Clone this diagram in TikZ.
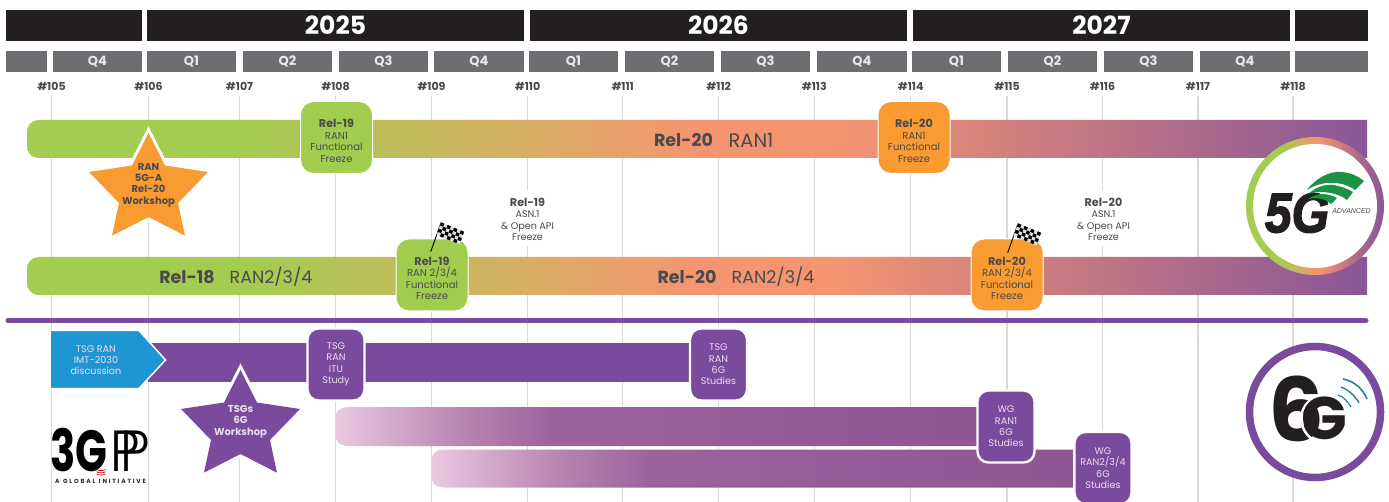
\documentclass[tikz,border=0pt]{standalone}
\usepackage{fontspec}
\setmainfont{Poppins}
\newfontfamily\fivegfont[BoldItalicFeatures={FakeBold=2.5}]{Liberation Sans}
\newfontfamily\thinfont{Poppins Light}
\usetikzlibrary{calc}
\definecolor{yearbar}{HTML}{231F20}
\definecolor{qbar}{HTML}{6D6E71}
\definecolor{qtext}{HTML}{E8E8E8}
\definecolor{gridc}{HTML}{D9D9DB}
\definecolor{txt}{HTML}{4A4A4C}
\definecolor{grn}{HTML}{A0CD4E}
\definecolor{org}{HTML}{F99B30}
\definecolor{pur}{HTML}{7A4A9C}
\definecolor{blu}{HTML}{1E96D2}
\definecolor{lav}{HTML}{E9DEF0}
\definecolor{gA}{HTML}{A2CD50}
\definecolor{gB}{HTML}{D9AE65}
\definecolor{gC}{HTML}{F59570}
\definecolor{gD}{HTML}{8A5698}
\definecolor{fA}{HTML}{EAC9E2}
\definecolor{fB}{HTML}{B884B0}
\definecolor{fC}{HTML}{9C639D}
\definecolor{fD}{HTML}{8F5595}
\definecolor{swoosh}{HTML}{1B9347}
\definecolor{teal6}{HTML}{2A7F9E}
\pgfdeclarehorizontalshading{barshade}{100bp}{color(0bp)=(gA); color(33bp)=(gA); color(43.8bp)=(gB); color(50bp)=(gC); color(55bp)=(gC); color(75bp)=(gD); color(100bp)=(gD)}
\pgfdeclarehorizontalshading{fadeshade}{100bp}{color(0bp)=(fA); color(25bp)=(fA); color(35bp)=(fB); color(42bp)=(fC); color(75bp)=(fD); color(100bp)=(fD)}
\pgfdeclarehorizontalshading{ringshade}{100bp}{color(0bp)=(gA); color(37bp)=(gA); color(51bp)=(gC); color(66bp)=(gD!70!gC); color(75bp)=(gD); color(100bp)=(gD)}
\newcommand{\hd}[1]{{\fontsize{11.2}{11.6}\selectfont\textbf{#1}}}
\newcommand{\lft}{\rule{0pt}{15pt}}
% left-rounded bar: x-left, x-right, y-top, y-bottom
\newcommand{\lbar}[4]{(#1+12,#3) .. controls (#1+5,#3) and (#1,#3+5) .. (#1,#3+12) -- (#1,#4-12) .. controls (#1,#4-5) and (#1+5,#4) .. (#1+12,#4) -- (#2,#4) -- (#2,#3) -- cycle}
\newcommand{\starpath}{(0,0) -- (16.5,32.5) -- (59.5,39) -- (29.5,70) -- (36.5,102.7) -- (0,84) -- (-36.5,102.7) -- (-29.5,70) -- (-59.5,39) -- (-16.5,32.5) -- cycle}
\tikzset{
  x=1pt,y=-1pt,
  yearbox/.style={fill=yearbar,inner sep=0pt,minimum height=31,text=white,font=\fontsize{25}{27}\selectfont\bfseries},
  qbox/.style={fill=qbar,inner sep=0pt,minimum height=21,text=qtext,font=\fontsize{13}{15}\selectfont\bfseries},
  meet/.style={inner sep=0pt,minimum height=20,minimum width=30,text=txt,font=\fontsize{11}{13}\selectfont\bfseries},
  gridline/.style={draw=gridc,line width=1.4},
  mile/.style={rectangle,rounded corners=13,draw=white,line width=1,minimum width=72,minimum height=72,inner sep=0pt,align=center,text=txt,font=\fontsize{10}{11.6}\selectfont},
  sixbox/.style={rectangle,rounded corners=11,fill=pur,draw=white,line width=2.4,minimum width=57,minimum height=72,inner sep=0pt,align=center,text=lav,font=\fontsize{9.6}{11.4}\selectfont},
  note/.style={fill=white,inner sep=0pt,minimum width=70,minimum height=56,align=center,text=txt,font=\fontsize{9.6}{11.4}\selectfont},
  startext/.style={inner sep=0pt,align=center,font=\fontsize{10}{11.4}\selectfont\bfseries},
  bartext/.style={inner sep=0pt,text=txt,font=\fontsize{17.5}{20}\selectfont},
  flagpic/.pic={
    \draw[black,line width=0.9] (0,0) -- (10.3,-29);
    \begin{scope}[shift={(10.3,-29.4)},x={(3.29pt,-1.34pt)},y={(-1.07pt,-3.18pt)}]
      \fill[gray!25] (0,0) -- (7,0) -- (7,4) -- (0,4) -- cycle;
      \foreach \i in {0,...,6}\foreach \j in {0,...,3}{
        \pgfmathtruncatemacro{\m}{mod(\i+\j,2)}
        \ifnum\m=0 \fill[black] (\i,\j) -- (\i+1,\j) -- (\i+1,\j+1) -- (\i,\j+1) -- cycle;\fi}
    \end{scope}
  }
}
\begin{document}
\begin{tikzpicture}
\useasboundingbox (0,0) rectangle (1389,502);
\fill[white] (0,0) rectangle (1389,502);
% year bars
\foreach \n/\a/\b/\t in {y0/6/142/,y1/147/524/2025,y2/530/907/2026,y3/913/1290/2027,y4/1295/1368/}{
  \pgfmathsetmacro{\w}{\b-\a}\pgfmathsetmacro{\c}{(\a+\b)/2}
  \node[yearbox,minimum width=\w] (\n) at (\c,25.5) {\t};}
% quarter bars
\foreach \n/\a/\b/\t in {q0/6/47/,q1/53/142/Q4,q2/147/236/Q1,q3/243/332/Q2,q4/339/428/Q3,q5/434/524/Q4,q6/529/618/Q1,q7/625/714/Q2,q8/721/810/Q3,q9/817/907/Q4,q10/912/1001/Q1,q11/1008/1097/Q2,q12/1104/1193/Q3,q13/1200/1290/Q4,q14/1295/1368/}{
  \pgfmathsetmacro{\w}{\b-\a}\pgfmathsetmacro{\c}{(\a+\b)/2}
  \node[qbox,minimum width=\w] (\n) at (\c,61.5) {\t};}
% meetings and grid lines
\foreach \n/\x in {105/51.5,106/148.5,107/239.5,108/335.5,109/431.5,110/527.5,111/622.7,112/718.7,113/814.3,114/910.7,115/1007,116/1102.5,117/1198,118/1293}{
  \node[meet] (m\n) at (\x,86) {\#\n};
  \coordinate (e\n) at (\x,502);
  \draw[gridline] (m\n.south) -- (e\n);}
% notes over the grid
\node[note] (asn19) at (527.5,218) {\rule{0pt}{11pt}\hd{Rel-19}\\ASN.1\\\& Open API\\Freeze};
\node[note] (asn20) at (1103.5,218) {\rule{0pt}{11pt}\hd{Rel-20}\\ASN.1\\\& Open API\\Freeze};
% release bars
\shade[shading=barshade] \lbar{27}{1367}{120}{158};
\shade[shading=barshade] \lbar{27}{1367}{257}{295};
\node[bartext] (t1a) at (683.5,140) {\hd{\fontsize{17.5}{20}\selectfont Rel-20}};
\node[bartext,font=\fontsize{19.5}{21}\selectfont] (t1b) at (751,140) {RAN1};
\node[bartext] (t2a) at (187,277) {\hd{\fontsize{17.5}{20}\selectfont Rel-18}};
\node[bartext] (t2b) at (271,277) {RAN2/3/4};
\node[bartext] (t3a) at (687,277) {\hd{\fontsize{17.5}{20}\selectfont Rel-20}};
\node[bartext] (t3b) at (773,277) {RAN2/3/4};
% freeze boxes
\node[mile,fill=grn] (f1) at (336.5,137.5) {\lft\hd{Rel-19}\\RAN1\\Functional\\Freeze};
\node[mile,fill=org] (f2) at (914,137.5) {\lft\hd{Rel-20}\\RAN1\\Functional\\Freeze};
\node[mile,fill=grn] (f3) at (432,275) {\lft\hd{Rel-19}\\RAN 2/3/4\\Functional\\Freeze};
\node[mile,fill=org] (f4) at (1007,275) {\lft\hd{Rel-20}\\RAN 2/3/4\\Functional\\Freeze};
\pic at (430.7,251.7) {flagpic};
\pic at (1007.7,252.7) {flagpic};
% star 5G-A
\begin{scope}[shift={(148.5,133)}]
  \draw[white,line width=6,line join=miter] \starpath;
  \fill[org] \starpath;
\end{scope}
\node[startext,text=txt] (s1) at (148.5,185) {RAN\\5G-A\\Rel-20\\Workshop};
% divider
\draw[pur,line width=5,line cap=round] (8,320.5) -- (1366,320.5);
% 6G lower section
\fill[pur] (148,343.5) rectangle (692,381.5);
\shade[shading=fadeshade] \lbar{335}{977}{407}{446};
\shade[shading=fadeshade] \lbar{431}{1073}{449.5}{487.5};
\filldraw[fill=blu,draw=white,line width=1.5] (50,330.5) -- (139,330.5) -- (165.5,360) -- (139,388.5) -- (50,388.5) -- cycle;
\node[inner sep=0pt,align=center,text=lav,font=\fontsize{9.6}{11.2}\selectfont] (imt) at (96,360) {TSG RAN\\IMT-2030\\discussion};
\begin{scope}[shift={(240.5,370)}]
  \draw[white,line width=6,line join=miter] \starpath;
  \fill[pur] \starpath;
\end{scope}
\node[startext,text=lav] (s2) at (240.5,421.5) {TSGs\\6G\\Workshop};
\node[sixbox] (b1) at (336,364.5) {TSG\\RAN\\ITU\\Study};
\node[sixbox] (b2) at (718.5,364.5) {TSG\\RAN\\6G\\Studies};
\node[sixbox] (b3) at (1006,426.5) {WG\\RAN1\\6G\\Studies};
\node[sixbox] (b4) at (1103,468) {WG\\RAN2/3/4\\6G\\Studies};
% 5G circle
\shade[shading=ringshade] (1315,206) circle (69);
\fill[white] (1315,206) circle (62);
\node[inner sep=0pt,text=yearbar] (l5g) at (1297,213) {\scalebox{0.86}[1]{\fivegfont\fontsize{56}{56}\selectfont\bfseries\itshape 5G}};
\node[inner sep=0pt,text=txt] (adv) at (1351.5,211) {\fivegfont\fontsize{7}{8}\selectfont\itshape ADVANCED};
\fill[swoosh] (1306.7,190) .. controls (1316,178) and (1330,171) .. (1340,172) .. controls (1349,172) and (1358,176) .. (1364,181) -- (1355,190) .. controls (1346,183) and (1326,178) .. cycle;
\fill[swoosh] (1308,194) .. controls (1316,187) and (1325,184) .. (1333,185) .. controls (1341,186) and (1348,189) .. (1353,192) -- (1347,200) .. controls (1340,194) and (1322,189) .. cycle;
\fill[swoosh] (1308,199) .. controls (1313,196) and (1318,194) .. (1322,194) .. controls (1328,194) and (1333,196) .. (1337,198) -- (1331,204) .. controls (1326,199) and (1318,197) .. cycle;
% 6G circle
\filldraw[fill=white,draw=pur,line width=7.5] (1315,412) circle (65.5);
\node[inner sep=0pt,text=yearbar] (l6) at (1297,409) {\fontsize{88}{88}\selectfont\bfseries 6};
\draw[white,line width=2.5] (1312,399) .. controls (1298,408) and (1296,430) .. (1316,442);
\node[inner sep=0pt,text=yearbar] (lg) at (1324,418) {\fontsize{60}{60}\selectfont\bfseries G};
\draw[teal6,line width=1.6] (1343,379) .. controls (1354,381) and (1363,389) .. (1367,399);
\draw[teal6,line width=1.4] (1341,387) .. controls (1349,390) and (1355,396) .. (1359,403);
\draw[teal6,line width=1.2] (1338,395) .. controls (1344,397) and (1348,402) .. (1351,407);
% 3GPP
\node[inner sep=0pt,text=black] (lg3) at (79,450) {\scalebox{0.72}[1]{\fontsize{58}{58}\selectfont\bfseries 3G}};
\node[inner sep=0pt,text=black] (lgp) at (130,451) {\scalebox{0.9}[1]{\thinfont\fontsize{58}{58}\selectfont P\kern-.38em P}};
\foreach \d in {0,2.2,4.4}{\draw[red!85!black,line width=0.7] (96.5,469.5+\d) .. controls (98,471+\d) and (104,471+\d) .. (105.5,469.5+\d);}
\node[inner sep=0pt,text=txt!60!black,font=\fontsize{6}{7}\selectfont\bfseries\addfontfeatures{LetterSpace=30}] (glob) at (100.5,481.5) {A\hspace{3.5pt}GLOBAL\hspace{3.5pt}INITIATIVE};
\end{tikzpicture}
\end{document}
